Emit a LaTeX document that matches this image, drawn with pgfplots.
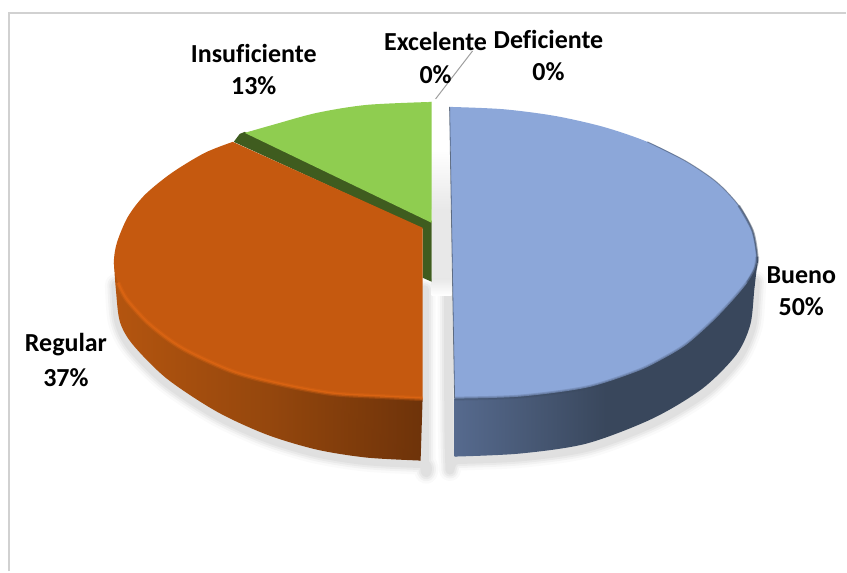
\documentclass[border=0pt]{standalone}
\usepackage{pgfplots}
\usepackage{pgfplotstable}
\usepackage{fontspec}
\setmainfont{Carlito}[Ligatures=NoCommon]
\pgfplotsset{compat=1.18}
\definecolor{cBlue}{HTML}{8CA7D9}
\definecolor{cOrange}{HTML}{C5590F}
\definecolor{cGreen}{HTML}{8FCD50}
\definecolor{cDark}{HTML}{3F5C1F}
\definecolor{sA}{HTML}{B4550F}
\definecolor{sM}{HTML}{95470D}
\definecolor{sB}{HTML}{6E330A}
\definecolor{sH}{HTML}{E66A14}
\definecolor{sC}{HTML}{566A8E}
\definecolor{sD}{HTML}{39475C}
\pgfplotstableread{
x y
450 107
503.5 109.3
555.3 116
604 127
648 142
686 161
717 182
739.4 205.7
753.3 231
758 257
756 269
748 283
733 301
713 322
687 345
662 360
637 372
587 388
520 397
455 399
}\blueTop
\pgfplotstableread{
x y
648 142
686 161
717 182
739.4 205.7
753.3 231
758 257
}\blueRim
\pgfplotstableread{
x y
739.4 205.7
753.3 231
758 257
756 269
748 283
}\blueCorner
\pgfplotstableread{
x y
758 257
756 269
748 283
733 301
713 322
687 345
662 360
637 372
587 388
520 397
455 399
}\blueLow
\pgfplotstableread{
x y
758 257
758 263
755 290
751 325
737 355
703 389
653 419
587 444
520 454
455 457
}\blueOut
\pgfplotstableread{
x y
455 399
455 457
600 430
758 257
}\blueTri
\pgfplotstableread{
x y
450 107
455 399
}\blueEdge
\pgfplotstableread{
x y
449 290
450 460
458 460
524 457
590 447
656 422
706 392
738 359
752 328
755 300
756 282
}\blueShadow
\pgfplotstableread{
x y
233 142
205 153
172 173
145 195
128 217
117 243
114 263
118 283
127 300
150 325
183 349
233 372
283 385
333 394
383 397
423 399
}\orangeTop
\pgfplotstableread{
x y
233 142
423 228
423 399
300 300
}\orangeTri
\pgfplotstableread{
x y
118 283
127 300
150 325
183 349
233 372
283 385
333 394
383 397
423 399
}\orangeLow
\pgfplotstableread{
x y
114 263
116 290
120 322
133 345
167 379
217 412
267 435
317 450
367 458
421 461
}\orangeOut
\pgfplotstableread{
x y
114 263
270 425
421 461
423 399
}\orangeSideTri
\pgfplotstableread{
x y
116 285
119 322
132 348
166 382
216 415
266 438
316 453
366 461
424 464
425 462
425 290
}\orangeShadow
\pgfplotstableread{
x y
432 102
367 105
317 113
273 125
245 133
}\greenTop
\pgfplotstableread{
x y
432 102
340 112
245 133
432 223
}\greenTri
\pgfplotstableread{
x y
234 142
240 134
245 132
432 221
432 282
423 278
423 229
}\greenWall
\pgfplotstableread{
x y
432 150
452 150
452 210
432 210
}\gapTop
\pgfplotstableread{
x y
432 209
452 209
452 280
432 280
}\gapMid
\pgfplotstableread{
x y
432 279
452 279
452 296
432 296
}\gapLow
\pgfplotstableread{
x y
9 572
9 13
847 13
}\frameLine
\pgfplotstableread{
x y
473 51
436 99
}\leader
\newcommand\lab[3]{\node[font=\fontsize{26}{28}\selectfont\bfseries,text=black,inner sep=0pt] at (axis cs:#1,#2) {#3};}
\begin{document}
\begin{tikzpicture}
\begin{axis}[
  width=847pt,height=572pt,scale only axis,
  xmin=0,xmax=847,ymin=0,ymax=572,y dir=reverse,
  axis lines=none,clip=false
]
\path (axis cs:0,0) rectangle (axis cs:847,572);
\addplot[draw=black!18,line width=1.6pt] table {\frameLine};
% shadows
\addplot[draw=black,opacity=.02,line width=22pt,line join=round,line cap=round,smooth] table {\blueShadow};
\addplot[draw=black,opacity=.03,line width=17pt,line join=round,line cap=round,smooth] table {\blueShadow};
\addplot[draw=black,opacity=.035,line width=13pt,line join=round,line cap=round,smooth] table {\blueShadow};
\addplot[draw=black,opacity=.04,line width=9pt,line join=round,line cap=round,smooth] table {\blueShadow};
\addplot[draw=black,opacity=.02,line width=22pt,line join=round,line cap=round,smooth] table {\orangeShadow};
\addplot[draw=black,opacity=.03,line width=17pt,line join=round,line cap=round,smooth] table {\orangeShadow};
\addplot[draw=black,opacity=.035,line width=13pt,line join=round,line cap=round,smooth] table {\orangeShadow};
\addplot[draw=black,opacity=.04,line width=9pt,line join=round,line cap=round,smooth] table {\orangeShadow};
\addplot[top color=white,bottom color=black!9,draw=none] table {\gapTop};
\addplot[fill=black!9,draw=none] table {\gapMid};
\addplot[top color=black!9,bottom color=white,draw=none] table {\gapLow};
% green slice
\addplot[fill=cDark,draw=none] table {\greenWall};
\addplot[fill=cGreen,draw=none] table {\greenTri};
\addplot[fill=cGreen,draw=none,smooth] table {\greenTop};
% orange side and top
\addplot[left color=sA,right color=sB,middle color=sM,draw=none] table {\orangeSideTri};
\addplot[left color=sA,right color=sB,middle color=sM,draw=none,smooth] table {\orangeOut};
\addplot[fill=cOrange,draw=none,smooth] table {\orangeTop};
\addplot[fill=cOrange,draw=none] table {\orangeTri};
\addplot[draw=sH,opacity=.25,line width=5pt,smooth] table {\orangeLow};
\addplot[draw=sH,opacity=.5,line width=2.5pt,smooth] table {\orangeLow};
% blue side and top
\addplot[left color=sC,right color=sD,middle color=sD,draw=none] table {\blueTri};
\addplot[left color=sC,right color=sD,middle color=sD,draw=none,smooth] table {\blueOut};
\addplot[fill=cBlue,draw=none,smooth] table {\blueTop};
\addplot[draw=sD,opacity=.2,line width=4pt,smooth] table {\blueLow};
\addplot[draw=sD,opacity=.25,line width=2pt,smooth] table {\blueLow};
\addplot[draw=sD,opacity=.5,line width=1pt,smooth] table {\blueRim};
\addplot[draw=sD,opacity=.45,line width=2.5pt,smooth] table {\blueCorner};
\addplot[draw=sD,opacity=.7,line width=.8pt] table {\blueEdge};
% leader
\addplot[draw=black!38,line width=1pt] table {\leader};
% labels
\lab{254}{54}{Insuficiente}
\lab{254}{86}{13\%}
\lab{436}{42}{Excelente}
\lab{436}{75}{0\%}
\lab{549}{40}{Deficiente}
\lab{549}{72}{0\%}
\lab{802}{275}{Bueno}
\lab{802}{307}{50\%}
\lab{66}{345}{Regular}
\lab{66}{378}{37\%}
\end{axis}
\end{tikzpicture}
\end{document}
